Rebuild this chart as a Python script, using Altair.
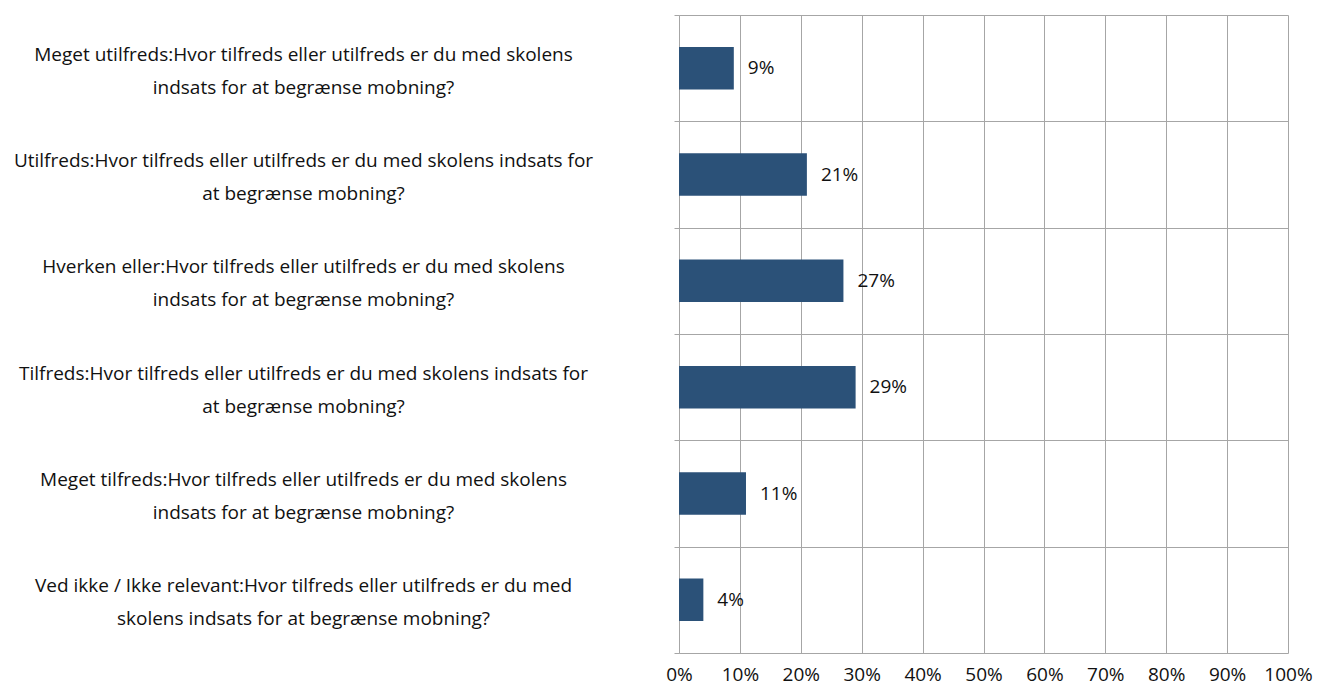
import altair as alt
import pandas as pd

categories = [
    "Meget utilfreds:Hvor tilfreds eller utilfreds er du med skolens\nindsats for at begrænse mobning?",
    "Utilfreds:Hvor tilfreds eller utilfreds er du med skolens indsats for\nat begrænse mobning?",
    "Hverken eller:Hvor tilfreds eller utilfreds er du med skolens\nindsats for at begrænse mobning?",
    "Tilfreds:Hvor tilfreds eller utilfreds er du med skolens indsats for\nat begrænse mobning?",
    "Meget tilfreds:Hvor tilfreds eller utilfreds er du med skolens\nindsats for at begrænse mobning?",
    "Ved ikke / Ikke relevant:Hvor tilfreds eller utilfreds er du med\nskolens indsats for at begrænse mobning?",
]
values = [0.09, 0.21, 0.27, 0.29, 0.11, 0.04]
value_labels = ["9%", "21%", "27%", "29%", "11%", "4%"]
x_ticks = [0, 0.1, 0.2, 0.3, 0.4, 0.5, 0.6, 0.7, 0.8, 0.9, 1.0]

df = pd.DataFrame({"cat": categories, "value": values, "label": value_labels})

FONT = "Open Sans"
GRID = "#a6a6a6"
FS = 19

y_enc = alt.Y(
    "cat:N",
    sort=categories,
    title=None,
    scale=alt.Scale(paddingInner=0, paddingOuter=0),
    axis=alt.Axis(
        labelExpr="split(datum.label, '\\n')",
        labelAlign="center",
        labelBaseline="middle",
        labelPadding=371,
        labelOffset=-14,
        labelLimit=700,
        labelFont=FONT,
        labelFontSize=FS,
        labelLineHeight=33,
        labelColor="#111111",
        tickBand="extent",
        tickSize=5,
        tickColor=GRID,
        grid=True,
        gridColor=GRID,
        domain=True,
        domainColor=GRID,
    ),
)

x_enc = alt.X(
    "value:Q",
    title=None,
    scale=alt.Scale(domain=[0, 1], nice=False),
    axis=alt.Axis(
        values=x_ticks,
        format=".0%",
        grid=True,
        gridColor=GRID,
        domain=False,
        ticks=False,
        tickSize=0,
        labelOverlap=False,
        labelFlush=False,
        labelPadding=12,
        labelBaseline="top",
        labelFont=FONT,
        labelFontSize=FS,
        labelColor="#111111",
    ),
)

base = alt.Chart(df).encode(y=y_enc)

bars = base.mark_bar(color="#2b5178", height={"band": 0.4}).encode(x=x_enc)

texts = base.mark_text(
    align="left", baseline="middle", dx=14, font=FONT, fontSize=FS, color="#111111"
).encode(x=alt.X("value:Q"), text="label:N")

chart = (
    alt.layer(bars, texts)
    .properties(
        width=609,
        height=638,
        autosize=alt.AutoSizeParams(type="none"),
        padding={"left": 671, "top": 7, "right": 25, "bottom": 35},
    )
    .configure_view(stroke=None)
)

chart.save("out.html", embed_options={"renderer": "svg", "actions": False})
